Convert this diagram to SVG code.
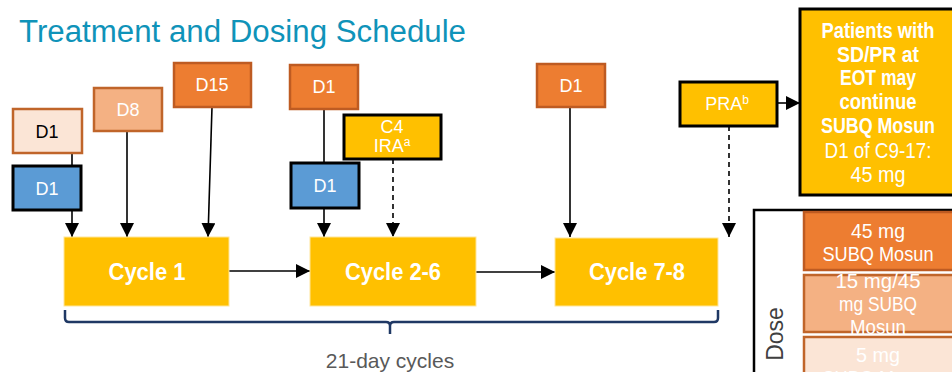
<svg xmlns="http://www.w3.org/2000/svg" width="952" height="372" viewBox="0 0 952 372">
<defs>
<marker id="ah" markerUnits="userSpaceOnUse" markerWidth="16" markerHeight="16" refX="14" refY="7" orient="auto">
<path d="M0,0 L14,7 L0,14 z" fill="#000"/>
</marker>
<style>
text{font-family:"Liberation Sans",Arial,sans-serif;}
.lbl{font-size:18px;fill:#fff;text-anchor:middle;}
.dark{fill:#000;}
.pale{fill:#FBE5D6;stroke:#C0652A;stroke-width:2.5;}
.lt{fill:#F4B183;stroke:#C0652A;stroke-width:2.5;}
.or{fill:#ED7D31;stroke:#BE5B22;stroke-width:2.5;}
.bl{fill:#5B9BD5;stroke:#000;stroke-width:3;}
.yb{fill:#FFC000;stroke:#000;stroke-width:3;}
.cyc{fill:#FFC000;stroke:#FFE699;stroke-width:1;}
.ct{font-size:24px;font-weight:bold;fill:#fff;text-anchor:middle;}
.ln{stroke:#000;stroke-width:1.6;fill:none;}
.ds{stroke:#000;stroke-width:1.6;fill:none;stroke-dasharray:5,4;}
.pt{font-size:22px;fill:#fff;text-anchor:middle;}
.rt{font-size:21px;fill:#fff;text-anchor:middle;}
</style>
</defs>

<text id="title" x="19" y="42" font-size="31" fill="#0F93B9" textLength="447" lengthAdjust="spacingAndGlyphs">Treatment and Dosing Schedule</text>

<g id="connectors">
<line class="ln" x1="72" y1="153" x2="72" y2="166"/>
<line class="ln" x1="72" y1="210" x2="72" y2="237" marker-end="url(#ah)"/>
<line class="ln" x1="127" y1="132" x2="127" y2="237" marker-end="url(#ah)"/>
<line class="ln" x1="212" y1="107" x2="208" y2="237" marker-end="url(#ah)"/>
<line class="ln" x1="324" y1="109" x2="324" y2="163"/>
<line class="ln" x1="324" y1="208" x2="324" y2="237" marker-end="url(#ah)"/>
<line class="ds" x1="393" y1="159" x2="393" y2="237" marker-end="url(#ah)"/>
<line class="ln" x1="570" y1="107" x2="570" y2="237" marker-end="url(#ah)"/>
<line class="ds" x1="729" y1="126" x2="729" y2="237" marker-end="url(#ah)"/>
<line class="ln" x1="778" y1="103" x2="800" y2="103" marker-end="url(#ah)"/>
<line class="ln" x1="229" y1="271" x2="310" y2="271" marker-end="url(#ah)"/>
<line class="ln" x1="476" y1="272" x2="555" y2="272" marker-end="url(#ah)"/>
<path d="M65,310 V318 Q65,322 69,322 H386 Q390,322 390,326 V334 M390,326 Q390,322 394,322 H714 Q718,322 718,318 V310" fill="none" stroke="#1F3864" stroke-width="2.5"/>
</g>

<g id="c1-d1-pale"><rect class="pale" x="13" y="109" width="69" height="44"/><text class="lbl dark" x="47" y="138">D1</text></g>
<g id="c1-d1-blue"><rect class="bl" x="13" y="166" width="68" height="44"/><text class="lbl" x="47" y="195">D1</text></g>
<g id="c1-d8"><rect class="lt" x="94" y="88" width="68" height="43"/><text class="lbl" x="128" y="116">D8</text></g>
<g id="c1-d15"><rect class="or" x="174" y="63" width="77" height="44"/><text class="lbl" x="212" y="91">D15</text></g>
<g id="c2-d1"><rect class="or" x="290" y="65" width="68" height="44"/><text class="lbl" x="324" y="93">D1</text></g>
<g id="c4-ira"><rect class="yb" x="344" y="115" width="97" height="44"/><text class="lbl" x="392" y="133">C4</text><text class="lbl" x="392" y="152">IRA<tspan font-size="12" dy="-6">a</tspan></text></g>
<g id="c2-d1-blue"><rect class="bl" x="291" y="163" width="68" height="45"/><text class="lbl" x="325" y="192">D1</text></g>
<g id="c7-d1"><rect class="or" x="537" y="64" width="68" height="43"/><text class="lbl" x="571" y="92">D1</text></g>
<g id="pra"><rect class="yb" x="680" y="82" width="97" height="44"/><text class="lbl" x="727" y="110">PRA<tspan font-size="12" dy="-6">b</tspan></text></g>

<g id="patients">
<rect class="yb" x="800" y="9" width="156" height="186"/>
<text class="pt" x="878" y="38" font-weight="bold" textLength="113" lengthAdjust="spacingAndGlyphs">Patients with</text>
<text class="pt" x="878" y="62" font-weight="bold" textLength="82" lengthAdjust="spacingAndGlyphs">SD/PR at</text>
<text class="pt" x="878" y="85" font-weight="bold" textLength="76" lengthAdjust="spacingAndGlyphs">EOT may</text>
<text class="pt" x="878" y="109" font-weight="bold" textLength="77" lengthAdjust="spacingAndGlyphs">continue</text>
<text class="pt" x="878" y="133" font-weight="bold" textLength="114" lengthAdjust="spacingAndGlyphs">SUBQ Mosun</text>
<text class="pt" x="878" y="158" textLength="107" lengthAdjust="spacingAndGlyphs">D1 of C9-17:</text>
<text class="pt" x="878" y="182" textLength="55" lengthAdjust="spacingAndGlyphs">45 mg</text>
</g>

<g id="cycle1"><rect class="cyc" x="64" y="237" width="165" height="69"/><text class="ct" x="147" y="280" textLength="77" lengthAdjust="spacingAndGlyphs">Cycle 1</text></g>
<g id="cycle2-6"><rect class="cyc" x="310" y="237" width="166" height="69"/><text class="ct" x="393" y="280" textLength="96" lengthAdjust="spacingAndGlyphs">Cycle 2-6</text></g>
<g id="cycle7-8"><rect class="cyc" x="555" y="238" width="163" height="68"/><text class="ct" x="637" y="280" textLength="96" lengthAdjust="spacingAndGlyphs">Cycle 7-8</text></g>

<text id="cycles-label" x="390" y="368" font-size="21" fill="#595959" text-anchor="middle">21-day cycles</text>

<g id="dose-table">
<rect x="754" y="210" width="202" height="190" fill="#fff" stroke="#000" stroke-width="2.5"/>
<text x="0" y="0" font-size="23" fill="#404040" text-anchor="middle" transform="translate(783,334) rotate(-90)">Dose</text>
<g id="row45"><rect class="or" x="804" y="212" width="152" height="58"/>
<text class="rt" x="878" y="238" textLength="54" lengthAdjust="spacingAndGlyphs">45 mg</text><text class="rt" x="878" y="261" textLength="111" lengthAdjust="spacingAndGlyphs">SUBQ Mosun</text></g>
<g id="row15"><rect class="lt" x="804" y="275" width="152" height="57"/>
<text class="rt" x="878" y="288" textLength="85" lengthAdjust="spacingAndGlyphs">15 mg/45</text><text class="rt" x="878" y="311" textLength="78" lengthAdjust="spacingAndGlyphs">mg SUBQ</text><text class="rt" x="878" y="334" textLength="56" lengthAdjust="spacingAndGlyphs">Mosun</text></g>
<g id="row5"><rect class="pale" x="804" y="337" width="152" height="60"/>
<text class="rt dark" x="878" y="362" textLength="44" lengthAdjust="spacingAndGlyphs">5 mg</text><text class="rt dark" x="878" y="385" textLength="111" lengthAdjust="spacingAndGlyphs">SUBQ Mosun</text></g>
</g>
</svg>
